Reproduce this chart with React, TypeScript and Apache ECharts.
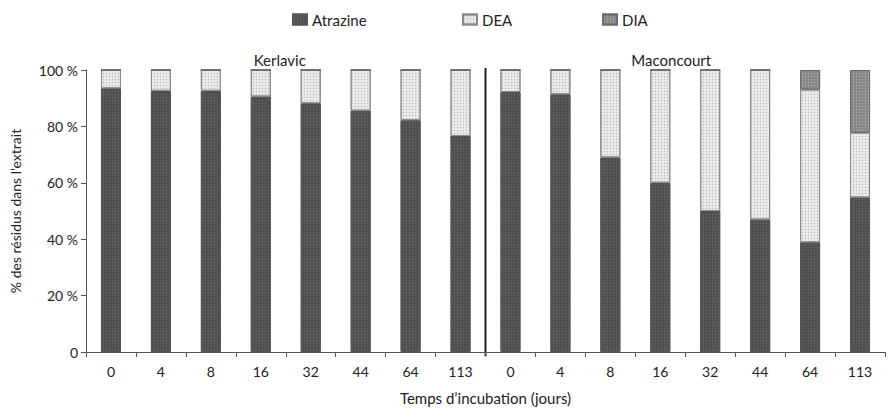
import React, { useEffect, useRef } from "react";
import * as echarts from "echarts";

const categories = ["0", "4", "8", "16", "32", "44", "64", "113", "0", "4", "8", "16", "32", "44", "64", "113"];
const atrazine = [93.5, 92.6, 92.6, 90.6, 88.2, 85.6, 82.2, 76.6, 92.2, 91.4, 69, 60, 50, 47, 38.9, 54.8];
const dea = [6.5, 7.4, 7.4, 9.4, 11.8, 14.4, 17.8, 23.4, 7.8, 8.6, 31, 40, 50, 53, 54.2, 23];
const dia = [0, 0, 0, 0, 0, 0, 0, 0, 0, 0, 0, 0, 0, 0, 6.9, 22.2];
const siteTitles = ["Kerlavic", "Maconcourt"];

const FONT = "Lato, 'Open Sans', sans-serif";

export default function App() {
  const ref = useRef<HTMLDivElement>(null);
  useEffect(() => {
    document.body.style.margin = "0";
    if (!ref.current) return;
    const chart = echarts.init(ref.current, undefined, { renderer: "svg" });
    const mkSeries = (name: string, data: number[], color: string, border: string, decal: any) => ({
      name,
      type: "bar",
      stack: "t",
      data,
      barWidth: 20,
      itemStyle: { color, borderColor: border, borderWidth: 1, decal },
    });
    chart.setOption({
      animation: false,
      textStyle: { fontFamily: FONT },
      legend: [
        { data: ["Atrazine"], left: 287, top: 7 },
        { data: ["DEA"], left: 457, top: 7 },
        { data: ["DIA"], left: 597, top: 7 },
      ].map((l) => ({
        ...l,
        itemWidth: 14,
        itemHeight: 10,
        itemGap: 8,
        icon: "rect",
        textStyle: { fontFamily: FONT, fontSize: 15, color: "#222" },
      })),
      grid: { left: 85, right: 8, top: 70, bottom: 67 },
      xAxis: {
        type: "category",
        data: categories,
        name: "Temps d\u2019incubation (jours)",
        nameLocation: "middle",
        nameGap: 38,
        nameTextStyle: { fontSize: 15, color: "#222", fontFamily: FONT },
        axisLine: { lineStyle: { color: "#555", width: 1 } },
        axisTick: { show: true, length: 5, lineStyle: { color: "#555" } },
        axisLabel: { fontSize: 14, color: "#222", margin: 12, fontFamily: FONT, interval: 0 },
      },
      yAxis: {
        type: "value",
        min: 0,
        max: 100,
        interval: 20,
        name: "% des r\u00e9sidus dans l'extrait",
        nameLocation: "middle",
        nameGap: 64,
        nameTextStyle: { fontSize: 14, color: "#222", fontFamily: FONT },
        axisLine: { show: true, lineStyle: { color: "#555", width: 1 } },
        axisTick: { show: true, length: 5, lineStyle: { color: "#555" } },
        splitLine: { show: false },
        axisLabel: {
          fontSize: 14,
          color: "#222",
          margin: 8,
          fontFamily: FONT,
          formatter: (v: number) => (v === 0 ? "0" : v + " %"),
        },
      },
      series: [
        mkSeries("Atrazine", atrazine, "#4e4e4e", "#555", {
          symbol: "circle",
          symbolSize: 0.5,
          dashArrayX: [3, 0],
          dashArrayY: [3, 0],
          color: "rgba(120,120,120,0.6)",
        }),
        mkSeries("DEA", dea, "#ececec", "#8a8a8a", {
          symbol: "circle",
          symbolSize: 0.5,
          dashArrayX: [3, 0],
          dashArrayY: [3, 0],
          color: "rgba(170,170,170,0.7)",
        }),
        mkSeries("DIA", dia, "#7c7c7c", "#6a6a6a", {
          symbol: "rect",
          symbolSize: 0.6,
          dashArrayX: [3, 0],
          dashArrayY: [3, 0],
          color: "rgba(180,180,180,0.8)",
        }),
      ],
    });
    const p7 = chart.convertToPixel({ xAxisIndex: 0, yAxisIndex: 0 }, [7, 100]) as number[];
    const p8 = chart.convertToPixel({ xAxisIndex: 0, yAxisIndex: 0 }, [8, 0]) as number[];
    const p0 = chart.convertToPixel({ xAxisIndex: 0, yAxisIndex: 0 }, [0, 100]) as number[];
    const p15 = chart.convertToPixel({ xAxisIndex: 0, yAxisIndex: 0 }, [15, 100]) as number[];
    const divX = (p7[0] + p8[0]) / 2;
    const c1 = (p0[0] + p7[0]) / 2;
    const c2 = (p8[0] + p15[0]) / 2;
    chart.setOption({
      graphic: [
        {
          type: "line",
          shape: { x1: divX, y1: p7[1] - 2, x2: divX, y2: p8[1] + 4 },
          style: { stroke: "#222", lineWidth: 2 },
        },
        {
          type: "text",
          x: c1 - 6,
          y: p7[1] - 3,
          style: { text: siteTitles[0], fontSize: 15, fill: "#222", fontFamily: FONT, align: "center", verticalAlign: "bottom" },
        },
        {
          type: "text",
          x: c2 - 14,
          y: p7[1] - 3,
          style: { text: siteTitles[1], fontSize: 15, fill: "#222", fontFamily: FONT, align: "center", verticalAlign: "bottom" },
        },
      ],
    });
    return () => chart.dispose();
  }, []);
  return <div ref={ref} style={{ width: 893, height: 419 }} />;
}
